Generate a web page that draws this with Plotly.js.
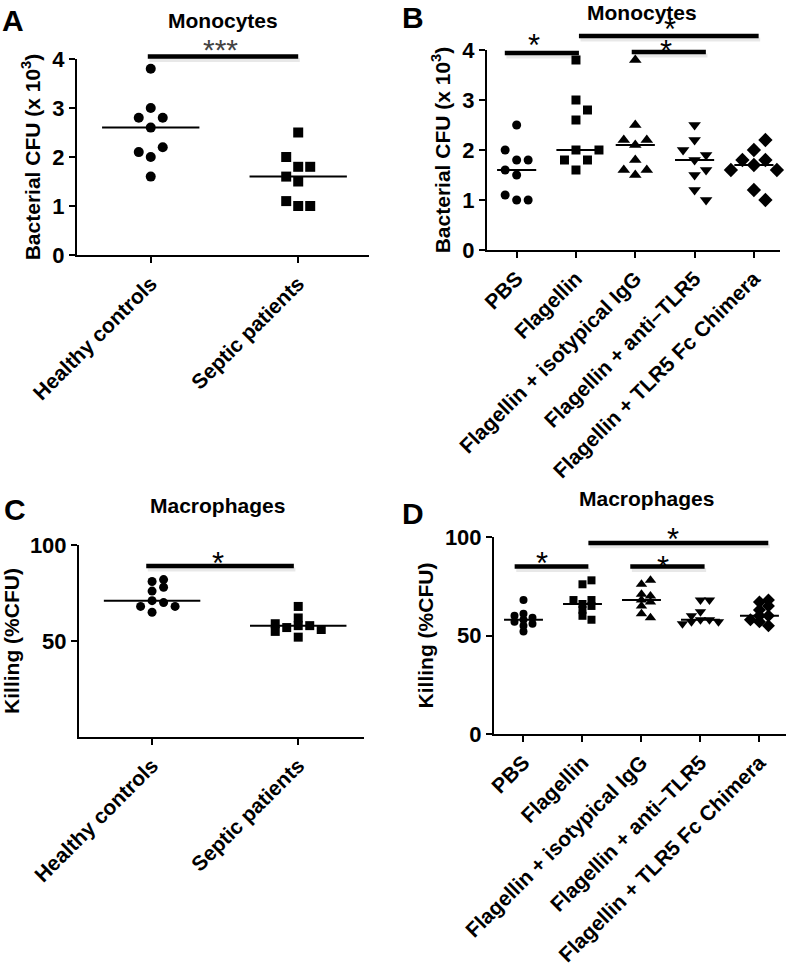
<!DOCTYPE html>
<html><head><meta charset="utf-8">
<script src="https://cdn.plot.ly/plotly-3.0.1.min.js"></script>
<style>body{margin:0;background:#fff}</style></head>
<body><div id="chart" style="width:787px;height:966px"></div>
<script>
// ---------------- data ----------------
const groupsPatients = ['Healthy controls', 'Septic patients'];
const groupsTreat = ['PBS', 'Flagellin', 'Flagellin + isotypical IgG', 'Flagellin + anti\u2013TLR5', 'Flagellin + TLR5 Fc Chimera'];

// Panel A: Monocytes, bacterial CFU (x 10^3)
const monoHealthy = [2.6, 2.8, 2.8, 3.0, 3.8, 2.0, 2.2, 2.1, 1.6];
const monoSeptic  = [1.8, 1.8, 1.6, 1.5, 2.0, 2.5, 1.0, 1.0, 1.1];

// Panel B: Monocytes, bacterial CFU (x 10^3)
const monoPBS  = [1.8, 1.8, 1.6, 1.5, 2.0, 2.5, 1.0, 1.0, 1.1];
const monoFla  = [2.6, 2.8, 3.0, 3.8, 2.0, 1.8, 1.8, 1.6, 2.0];
const monoIgG  = [2.1, 2.2, 2.2, 2.5, 3.8, 1.8, 1.6, 1.6, 1.5];
const monoAnti = [1.8, 1.9, 2.0, 2.2, 2.5, 1.5, 1.6, 1.2, 1.0];
const monoChim = [1.7, 1.8, 1.8, 2.0, 2.2, 1.6, 1.6, 1.2, 1.0];

// Panel C: Macrophages, killing (%CFU)
const macHealthy = [71, 70, 68, 68, 65, 76, 78, 81, 82];
const macSeptic  = [58, 58, 57, 56, 59, 55, 62, 52, 68];

// Panel D: Macrophages, killing (%CFU)
const macPBS  = [58, 59, 57, 60, 56, 61, 55, 52, 68];
const macFla  = [66, 65, 68, 68, 63, 60, 58, 76, 78];
const macIgG  = [68, 67, 70, 71, 65, 61, 59, 76, 78];
const macAnti = [58, 58, 57, 57, 56, 60, 62, 68, 68];
const macChim = [60, 60, 58, 63, 57, 65, 55, 67, 68];

// significance labels
const sigA = ['***'];
const sigB = ['*', '*', '*'];
const sigC = ['*'];
const sigD = ['*', '*', '*'];

// ---------------- layout helpers ----------------
const W = 787, H = 966;
const FONT = 'Liberation Sans, Arial, sans-serif';
const px = x => x / W, py = y => 1 - y / H;

const panels = {
  A: {xd: [77, 369], yd: [255, 59], xr: [-0.5, 1.48], yr: [0, 4], ms: 10, col: 12, thr: 10.5},
  B: {xd: [487, 780], yd: [250, 50], xr: [-0.5, 4.44], yr: [0, 4], ms: 9, col: 11.5, thr: 10.5},
  C: {xd: [79, 364], yd: [737, 545], xr: [-0.5, 1.45], yr: [0, 100], ms: 9, col: 11.5, thr: 7},
  D: {xd: [494, 786], yd: [734, 537], xr: [-0.5, 4.45], yr: [0, 100], ms: 8, col: 9, thr: 5}
};
function pxPerUnitY(p) { return (p.yd[0] - p.yd[1]) / (p.yr[1] - p.yr[0]); }
function pxPerCat(p) { return (p.xd[1] - p.xd[0]) / (p.xr[1] - p.xr[0]); }
function toPaperX(p, v) { return px(p.xd[0] + (v - p.xr[0]) * pxPerCat(p)); }
function toPaperY(p, v) { return py(p.yd[0] - (v - p.yr[0]) * pxPerUnitY(p)); }

function swarm(vals, center, p) {
  const placed = [], xs = [];
  const cand = [0, 1, -1, 2, -2, 3, -3, 4, -4];
  const ky = pxPerUnitY(p), kx = pxPerCat(p);
  vals.forEach(v => {
    for (const c of cand) {
      const ok = placed.every(q => q.c !== c || Math.abs(q.v - v) * ky >= p.thr);
      if (ok) { placed.push({v, c}); xs.push(center + c * p.col / kx); break; }
    }
  });
  return xs;
}
function median(a) {
  const s = [...a].sort((x, y) => x - y), n = s.length;
  return n % 2 ? s[(n - 1) / 2] : (s[n / 2 - 1] + s[n / 2]) / 2;
}

const traces = [];
function addGroup(vals, idx, p, ax, symbol) {
  traces.push({
    type: 'scatter', mode: 'markers', xaxis: 'x' + ax, yaxis: 'y' + ax,
    x: swarm(vals, idx, p), y: vals, cliponaxis: false,
    marker: {symbol: symbol, size: (symbol.startsWith('triangle') || symbol === 'diamond') ? p.ms + 2 : p.ms, color: '#000'},
    hoverinfo: 'y', showlegend: false
  });
  const m = median(vals);
  traces.push({
    type: 'scatter', mode: 'lines', xaxis: 'x' + ax, yaxis: 'y' + ax,
    x: [idx - 0.33, idx + 0.33], y: [m, m], cliponaxis: false,
    line: {color: '#000', width: 2}, hoverinfo: 'skip', showlegend: false
  });
}
const sym5 = ['circle', 'square', 'triangle-up', 'triangle-down', 'diamond'];
addGroup(monoHealthy, 0, panels.A, '', 'circle');
addGroup(monoSeptic, 1, panels.A, '', 'square');
[monoPBS, monoFla, monoIgG, monoAnti, monoChim].forEach((g, i) => addGroup(g, i, panels.B, '2', sym5[i]));
addGroup(macHealthy, 0, panels.C, '3', 'circle');
addGroup(macSeptic, 1, panels.C, '3', 'square');
[macPBS, macFla, macIgG, macAnti, macChim].forEach((g, i) => addGroup(g, i, panels.D, '4', sym5[i]));

// ---------------- significance bars ----------------
const shapes = [], annotations = [];
function sigBar(p, x0, x1, yv, sx, sy, label, starSize, starColor) {
  const X0 = toPaperX(p, x0), X1 = toPaperX(p, x1), Y = toPaperY(p, yv);
  shapes.push({type: 'line', xref: 'paper', yref: 'paper', x0: X0 + 0.002, x1: X1 + 0.002, y0: Y - 0.0035, y1: Y - 0.0035,
    line: {color: 'rgba(0,0,0,0.09)', width: 4}});
  shapes.push({type: 'line', xref: 'paper', yref: 'paper', x0: X0, x1: X1, y0: Y, y1: Y,
    line: {color: '#000', width: 4.5}});
  annotations.push({xref: 'paper', yref: 'paper', x: toPaperX(p, sx), y: toPaperY(p, sy), text: label,
    showarrow: false, xanchor: 'center', yanchor: 'middle',
    font: {family: FONT, size: starSize, color: starColor}});
}
sigBar(panels.A, -0.02, 1.0, 4.05, 0.47, 4.2, sigA[0], 30, '#444');
sigBar(panels.B, -0.2, 1.05, 3.94, 0.3, 4.1, sigB[0], 31, '#000');
sigBar(panels.B, 1.05, 4.08, 4.28, 2.58, 4.4, sigB[1], 31, '#000');
sigBar(panels.B, 1.94, 3.19, 3.96, 2.51, 3.96, sigB[2], 31, '#000');
sigBar(panels.C, -0.04, 0.97, 89, 0.45, 90.5, sigC[0], 31, '#000');
sigBar(panels.D, -0.15, 1.1, 85, 0.32, 86.5, sigD[0], 31, '#000');
sigBar(panels.D, 1.1, 4.15, 97, 2.54, 98.5, sigD[1], 31, '#000');
sigBar(panels.D, 1.81, 3.07, 85, 2.36, 84.5, sigD[2], 31, '#000');

// ---------------- titles & panel letters ----------------
function label(x, y, text, size) {
  annotations.push({xref: 'paper', yref: 'paper', x: px(x), y: py(y), text: text, showarrow: false,
    xanchor: 'center', yanchor: 'middle', font: {family: FONT, size: size, color: '#000', weight: 'bold'}});
}
label(223, 21, 'Monocytes', 21);
label(642, 12, 'Monocytes', 21);
label(217, 505, 'Macrophages', 21);
label(646, 498, 'Macrophages', 21);
label(13, 21, 'A', 30);
label(413, 17, 'B', 30);
label(15, 509, 'C', 30);
label(413, 513, 'D', 30);

// ---------------- axes ----------------
const tickFont = {family: FONT, size: 21, color: '#000', weight: 'bold'};
function xAxis(p, cats, anchor) {
  return {domain: [px(p.xd[0]), px(p.xd[1])], range: p.xr, anchor: anchor,
    tickmode: 'array', tickvals: cats.map((_, i) => i), ticktext: cats, tickangle: -45,
    showline: true, linewidth: 2, linecolor: '#000', ticks: 'outside', ticklen: 6, tickwidth: 2, tickcolor: '#000',
    showgrid: false, zeroline: false, tickfont: tickFont, fixedrange: true};
}
function yAxis(p, tv, title, anchor) {
  return {domain: [py(p.yd[0]), py(p.yd[1])], range: p.yr, anchor: anchor,
    tickmode: 'array', tickvals: tv,
    showline: true, linewidth: 2, linecolor: '#000', ticks: 'outside', ticklen: 6, tickwidth: 2, tickcolor: '#000',
    showgrid: false, zeroline: false, tickfont: {family: FONT, size: 22, color: '#000', weight: 'bold'},
    title: {text: title, font: {family: FONT, size: 21, color: '#000', weight: 'bold'}, standoff: 6}, fixedrange: true};
}
const cfuTitle = 'Bacterial CFU (x 10<sup>3</sup>)';
const killTitle = 'Killing (%CFU)';

const layout = {
  width: W, height: H, margin: {l: 0, r: 0, t: 0, b: 0},
  paper_bgcolor: '#fff', plot_bgcolor: 'rgba(0,0,0,0)', showlegend: false,
  xaxis: xAxis(panels.A, groupsPatients, 'y'),
  yaxis: yAxis(panels.A, [0, 1, 2, 3, 4], cfuTitle, 'x'),
  xaxis2: xAxis(panels.B, groupsTreat, 'y2'),
  yaxis2: yAxis(panels.B, [0, 1, 2, 3, 4], cfuTitle, 'x2'),
  xaxis3: xAxis(panels.C, groupsPatients, 'y3'),
  yaxis3: yAxis(panels.C, [50, 100], killTitle, 'x3'),
  xaxis4: xAxis(panels.D, groupsTreat, 'y4'),
  yaxis4: yAxis(panels.D, [0, 50, 100], killTitle, 'x4'),
  shapes: shapes, annotations: annotations
};
Plotly.newPlot('chart', traces, layout, {displayModeBar: false, staticPlot: true});
</script></body></html>
